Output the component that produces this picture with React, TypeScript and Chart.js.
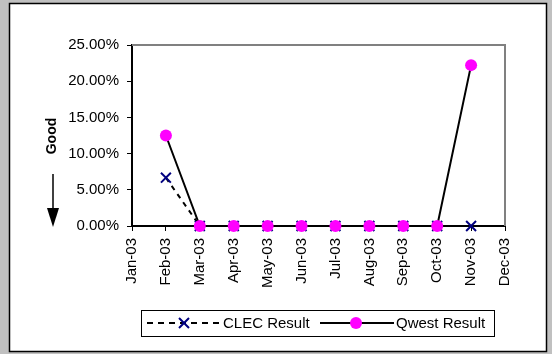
import { useEffect, useRef } from "react";
import { Chart, registerables } from "chart.js";

Chart.register(...registerables);

const months = ["Jan-03", "Feb-03", "Mar-03", "Apr-03", "May-03", "Jun-03", "Jul-03", "Aug-03", "Sep-03", "Oct-03", "Nov-03", "Dec-03"];
const clecResult: (number | null)[] = [null, 0.0667, 0, 0, 0, 0, 0, 0, 0, 0, 0, null];
const qwestResult: (number | null)[] = [null, 0.125, 0, 0, 0, 0, 0, 0, 0, 0, 0.2222, null];
const seriesNames = ["CLEC Result", "Qwest Result"];
const yMin = 0;
const yMax = 0.25;
const yStep = 0.05;
const directionNote = "Good";

const FONT = "'Liberation Sans', Arial, sans-serif";

const decorations = {
  id: "decorations",
  beforeDraw(chart: any) {
    const ctx = chart.ctx;
    ctx.save();
    ctx.fillStyle = "#c0c0c0";
    ctx.fillRect(0, 0, chart.width, chart.height);
    ctx.fillStyle = "#ffffff";
    ctx.fillRect(10, 4, 536, 347);
    ctx.strokeStyle = "#000000";
    ctx.lineWidth = 1.5;
    ctx.strokeRect(9.5, 3.5, 537, 348);
    ctx.restore();
  },
  beforeDatasetsDraw(chart: any) {
    const ctx = chart.ctx;
    const { left, top, right, bottom } = chart.chartArea;
    ctx.save();
    ctx.strokeStyle = "#808080";
    ctx.lineWidth = 2;
    ctx.beginPath();
    ctx.moveTo(left, top);
    ctx.lineTo(right, top);
    ctx.lineTo(right, bottom);
    ctx.stroke();
    ctx.restore();
  },
  afterDraw(chart: any) {
    const ctx = chart.ctx;
    ctx.save();
    // "Good" note
    ctx.translate(52, 136);
    ctx.rotate(-Math.PI / 2);
    ctx.fillStyle = "#000";
    ctx.font = `bold 14px ${FONT}`;
    ctx.textAlign = "center";
    ctx.textBaseline = "middle";
    ctx.fillText(directionNote, 0, 0);
    ctx.restore();

    // arrow
    ctx.save();
    ctx.strokeStyle = "#000";
    ctx.fillStyle = "#000";
    ctx.lineWidth = 1.5;
    ctx.beginPath();
    ctx.moveTo(53, 174);
    ctx.lineTo(53, 210);
    ctx.stroke();
    ctx.beginPath();
    ctx.moveTo(47, 208);
    ctx.lineTo(59, 208);
    ctx.lineTo(53, 227);
    ctx.closePath();
    ctx.fill();
    ctx.restore();

    // legend
    const ds = chart.data.datasets;
    ctx.save();
    ctx.fillStyle = "#fff";
    ctx.fillRect(141, 310, 353, 26);
    ctx.strokeStyle = "#000";
    ctx.lineWidth = 1;
    ctx.strokeRect(141.5, 310.5, 353, 26);
    const cy = 323;
    // CLEC
    ctx.strokeStyle = "#000";
    ctx.lineWidth = 2;
    ctx.setLineDash([6, 5]);
    ctx.beginPath();
    ctx.moveTo(147, cy);
    ctx.lineTo(219, cy);
    ctx.stroke();
    ctx.setLineDash([]);
    ctx.strokeStyle = "#000080";
    ctx.lineWidth = 2;
    ctx.beginPath();
    ctx.moveTo(179, cy - 5);
    ctx.lineTo(189, cy + 5);
    ctx.moveTo(189, cy - 5);
    ctx.lineTo(179, cy + 5);
    ctx.stroke();
    ctx.fillStyle = "#000";
    ctx.font = `15px ${FONT}`;
    ctx.textAlign = "left";
    ctx.textBaseline = "middle";
    ctx.fillText(ds[0].label, 223, cy + 1);
    // Qwest
    ctx.strokeStyle = "#000";
    ctx.lineWidth = 2;
    ctx.beginPath();
    ctx.moveTo(320, cy);
    ctx.lineTo(394, cy);
    ctx.stroke();
    ctx.fillStyle = "#ff00ff";
    ctx.beginPath();
    ctx.arc(356, cy, 6, 0, Math.PI * 2);
    ctx.fill();
    ctx.fillStyle = "#000";
    ctx.fillText(ds[1].label, 396, cy + 1);
    ctx.restore();
  },
};

export default function App() {
  const ref = useRef<HTMLCanvasElement>(null);

  useEffect(() => {
    if (!ref.current) return;
    const chart = new Chart(ref.current, {
      type: "line",
      data: {
        labels: months,
        datasets: [
          {
            label: seriesNames[0],
            data: clecResult,
            borderColor: "#000000",
            borderWidth: 2,
            borderDash: [5, 5],
            pointStyle: "crossRot",
            pointRadius: 7,
            pointBorderColor: "#000080",
            pointBorderWidth: 2,
            pointBackgroundColor: "#000080",
            fill: false,
            tension: 0,
            clip: false,
            order: 2,
          },
          {
            label: seriesNames[1],
            data: qwestResult,
            borderColor: "#000000",
            borderWidth: 2,
            pointStyle: "circle",
            pointRadius: 6,
            pointBackgroundColor: "#ff00ff",
            pointBorderColor: "#ff00ff",
            pointBorderWidth: 0,
            fill: false,
            tension: 0,
            clip: false,
            order: 1,
          },
        ],
      },
      options: {
        responsive: false,
        animation: false,
        devicePixelRatio: 1,
        layout: { padding: { left: 0, top: 45, right: 47, bottom: 0 } },
        plugins: {
          legend: { display: false },
          tooltip: { enabled: false },
        },
        scales: {
          x: {
            type: "category",
            offset: false,
            grid: {
              drawOnChartArea: false,
              drawTicks: true,
              tickLength: 5,
              tickColor: "#000",
              lineWidth: 1,
            },
            border: { color: "#000", width: 2 },
            ticks: {
              autoSkip: false,
              minRotation: 90,
              maxRotation: 90,
              padding: 7,
              color: "#000",
              font: { family: FONT, size: 15 },
            },
            afterFit(scale: any) {
              scale.height = 128;
            },
          },
          y: {
            min: yMin,
            max: yMax,
            grid: {
              drawOnChartArea: false,
              drawTicks: true,
              tickLength: 5,
              tickColor: "#000",
              lineWidth: 1,
            },
            border: { color: "#000", width: 2 },
            ticks: {
              stepSize: yStep,
              padding: 8,
              color: "#000",
              font: { family: FONT, size: 15 },
              callback: (v: any) => (Number(v) * 100).toFixed(2) + "%",
            },
            afterFit(scale: any) {
              scale.width = 132;
            },
          },
        },
      },
      plugins: [decorations],
    });
    return () => chart.destroy();
  }, []);

  return (
    <div style={{ position: "absolute", left: 0, top: 0, width: 552, height: 354 }}>
      <canvas ref={ref} width={552} height={354} style={{ display: "block", width: 552, height: 354 }} />
    </div>
  );
}
